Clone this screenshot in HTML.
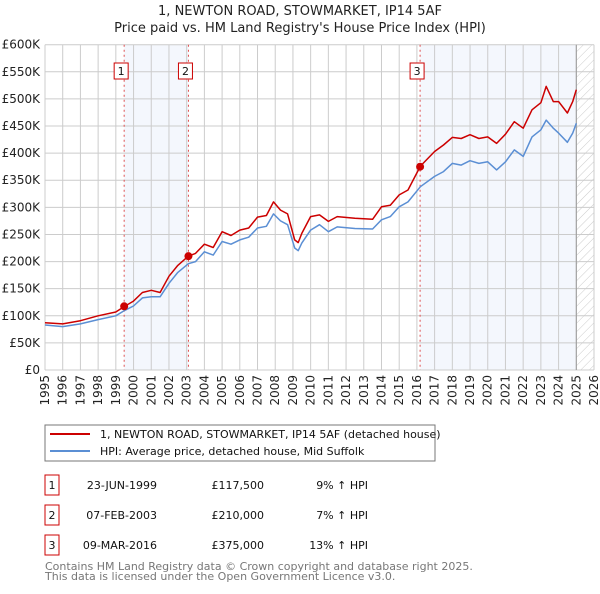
<!DOCTYPE html>
<html><head><meta charset="utf-8"><style>
body{margin:0;background:#fff;font-family:"DejaVu Sans","Liberation Sans",sans-serif;}
svg text{font-family:"DejaVu Sans","Liberation Sans",sans-serif;}
</style></head><body>
<svg id="c" width="600" height="590" xmlns="http://www.w3.org/2000/svg">
<defs><pattern id="hatch" width="6" height="6" patternUnits="userSpaceOnUse" patternTransform="rotate(45)"><line x1="0" y1="0" x2="0" y2="6" stroke="#ccc" stroke-width="1"/></pattern></defs>
<text x="300" y="15" text-anchor="middle" font-size="13" fill="#222">1, NEWTON ROAD, STOWMARKET, IP14 5AF</text>
<text x="300" y="32" text-anchor="middle" font-size="13" fill="#222">Price paid vs. HM Land Registry's House Price Index (HPI)</text>
<g id="plot"></g>
<rect x="45" y="425" width="390" height="36" fill="#fff" stroke="#777"/>
<line x1="50" y1="434" x2="90" y2="434" stroke="#cc0000" stroke-width="2"/>
<text x="100" y="438" font-size="11" fill="#111">1, NEWTON ROAD, STOWMARKET, IP14 5AF (detached house)</text>
<line x1="50" y1="451" x2="90" y2="451" stroke="#5b8fd4" stroke-width="2"/>
<text x="100" y="455" font-size="11" fill="#111">HPI: Average price, detached house, Mid Suffolk</text>
<g id="table" font-size="11" fill="#111"></g>
<text x="45" y="570" font-size="11" fill="#777">Contains HM Land Registry data © Crown copyright and database right 2025.</text>
<text x="45" y="580" font-size="11" fill="#777">This data is licensed under the Open Government Licence v3.0.</text>
</svg>
<script>
const years=[1995,1996,1997,1998,1999,1999.5,2000,2000.5,2001,2001.5,2002,2002.5,2003.1,2003.5,2004,2004.5,2005,2005.5,2006,2006.5,2007,2007.5,2007.9,2008.3,2008.7,2009.1,2009.3,2009.5,2010,2010.5,2011,2011.5,2012.5,2013.5,2014,2014.5,2015,2015.5,2016.2,2017,2017.5,2018,2018.5,2019,2019.5,2020,2020.5,2021,2021.5,2022,2022.5,2023,2023.3,2023.7,2024,2024.5,2024.8,2025];
const hpiValues=[83,80,85,93,100,110,118,133,135,135,160,180,196,200,218,212,237,232,240,245,262,265,288,275,268,225,220,234,258,268,255,264,261,260,277,283,301,310,338,357,366,381,378,386,381,384,369,384,406,394,430,443,461,446,437,420,437,455];
const priceValues=[87,85,91,100,107,117.5,127,143,147,143,173,193,210,215,232,226,255,248,258,262,282,285,310,295,288,240,235,252,283,286,274,283,280,278,301,304,323,332,376,403,415,429,427,434,427,430,418,435,458,446,480,493,523,495,495,474,495,517];
const saleYears=[1999.47,2003.1,2016.18];
const salePrices=[117.5,210,375];
const saleLabels=["1","2","3"];
const saleDates=["23-JUN-1999","07-FEB-2003","09-MAR-2016"];
const salePriceText=["£117,500","£210,000","£375,000"];
const saleHpiText=["9% ↑ HPI","7% ↑ HPI","13% ↑ HPI"];
const yTicks=[0,50,100,150,200,250,300,350,400,450,500,550,600];
const yTickLabels=["£0","£50K","£100K","£150K","£200K","£250K","£300K","£350K","£400K","£450K","£500K","£550K","£600K"];
const xTicks=[1995,1996,1997,1998,1999,2000,2001,2002,2003,2004,2005,2006,2007,2008,2009,2010,2011,2012,2013,2014,2015,2016,2017,2018,2019,2020,2021,2022,2023,2024,2025,2026];
const dataEnd=2025.0;

const NS="http://www.w3.org/2000/svg";
const X0=45,X1=594,Y0=370,Y1=44.7;
const xs=y=>X0+(y-1995)/(2026-1995)*(X1-X0);
const ys=v=>Y0-v/600*(Y0-Y1);
function mk(tag,attrs,parent){const e=document.createElementNS(NS,tag);for(const k in attrs)e.setAttribute(k,attrs[k]);parent.appendChild(e);return e;}
const P=document.getElementById('plot');
let r=mk('rect',{x:xs(saleYears[0]),y:Y1,width:xs(saleYears[1])-xs(saleYears[0]),height:Y0-Y1,fill:'#f4f7fd'},P);


r=mk('rect',{x:xs(saleYears[2]),y:Y1,width:xs(dataEnd)-xs(saleYears[2]),height:Y0-Y1,fill:'#f4f7fd'},P);


r=mk('rect',{x:xs(dataEnd),y:Y1,width:X1-xs(dataEnd),height:Y0-Y1,fill:'url(#hatch)'},P);


yTicks.forEach((t,i)=>{
 const l=mk('line',{x1:X0,x2:X1,y1:ys(t),y2:ys(t),stroke:'#ccc','stroke-width':1},P);
 
 
 const tx=mk('text',{x:40,y:ys(t)+4,'text-anchor':'end','font-size':12,fill:'#222'},P);
 tx.textContent=yTickLabels[i];
 
 
});
xTicks.forEach(t=>{
 const l=mk('line',{x1:xs(t),x2:xs(t),y1:Y1,y2:Y0,stroke:'#ccc','stroke-width':1},P);
 
 
 const tx=mk('text',{x:0,y:0,'text-anchor':'end','font-size':12,fill:'#222',transform:`translate(${xs(t)+4},${Y0+5}) rotate(-90)`},P);
 tx.textContent=t;
 
 
});
let v=mk('line',{x1:xs(dataEnd),x2:xs(dataEnd),y1:Y1,y2:Y0,stroke:'#999','stroke-width':1},P);


saleYears.forEach((s,i)=>{
 const l=mk('line',{x1:xs(s),x2:xs(s),y1:Y1,y2:Y0,stroke:'#e05050','stroke-width':1,'stroke-dasharray':'2,3'},P);
 
 
 const g=mk('g',{},P);
 
 
 mk('rect',{x:xs(s)-10,y:63,width:14,height:16,fill:'#fff',stroke:'#cc0000'},g);
 const t=mk('text',{x:xs(s)-3,y:75,'text-anchor':'middle','font-size':11,fill:'#111'},g);
 t.textContent=saleLabels[i];
});
function line(vals,color,name){
 const d=vals.map((v,i)=>(i?'L':'M')+xs(years[i]).toFixed(1)+','+ys(v).toFixed(1)).join('');
 const p=mk('path',{d,fill:'none',stroke:color,'stroke-width':1.5,'stroke-linejoin':'round'},P);
 
 
}
line(hpiValues,'#5b8fd4','hpi-line');
line(priceValues,'#cc0000','price-line');
saleYears.forEach((s,i)=>{
 const c=mk('circle',{cx:xs(s),cy:ys(salePrices[i]),r:4,fill:'#cc0000'},P);
 
 
});
const T=document.getElementById('table');
saleLabels.forEach((lab,i)=>{
 const y=483+i*30;
 const g=mk('g',{},T);
 
 
 mk('rect',{x:45,y:y-8,width:14,height:20,fill:'#fff',stroke:'#cc0000'},g);
 let t=mk('text',{x:52,y:y+6,'text-anchor':'middle'},g);t.textContent=lab;
 t=mk('text',{x:157,y:y+6,'text-anchor':'end'},g);t.textContent=saleDates[i];
 t=mk('text',{x:264,y:y+6,'text-anchor':'end'},g);t.textContent=salePriceText[i];
 t=mk('text',{x:368,y:y+6,'text-anchor':'end'},g);t.textContent=saleHpiText[i];
});
</script>
</body></html>
